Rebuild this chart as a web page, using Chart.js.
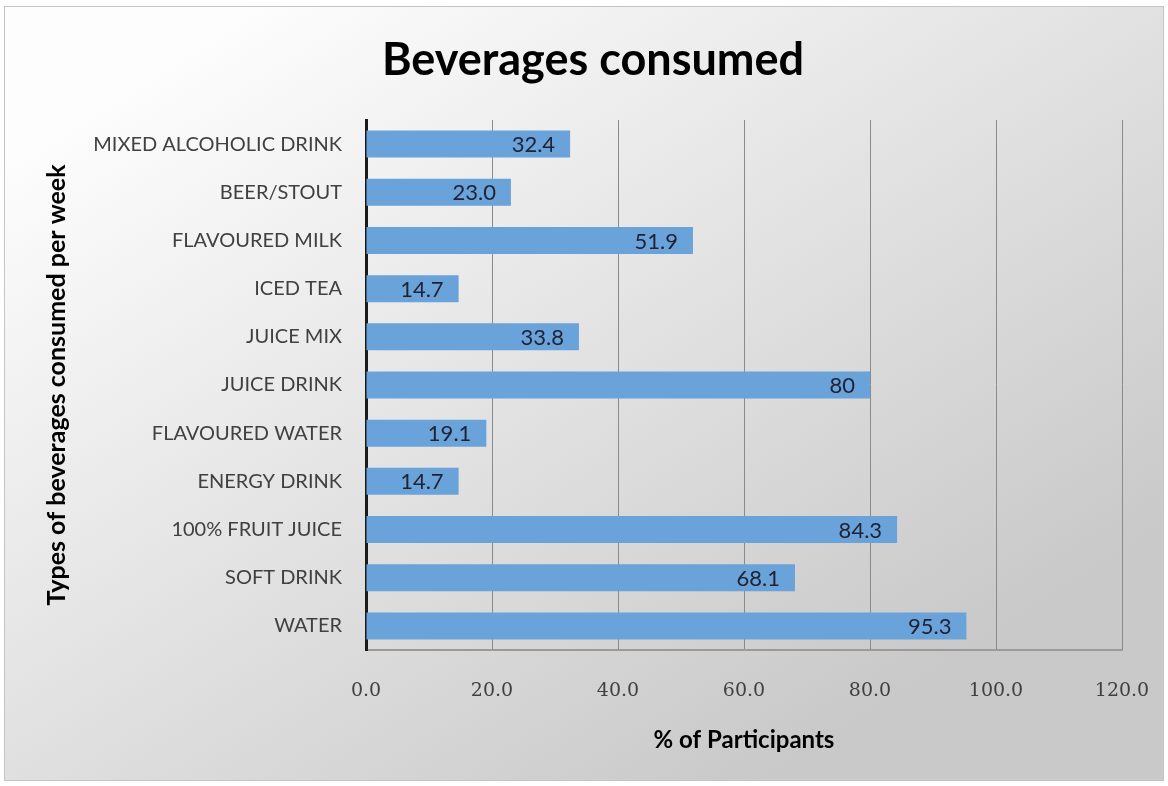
<!DOCTYPE html>
<html>
<head>
<meta charset="utf-8">
<script src="https://cdn.jsdelivr.net/npm/chart.js@4"></script>
<style>
  html, body { margin: 0; padding: 0; background: #fff; }
  #wrap { width: 1168px; height: 786px; }
</style>
</head>
<body>
<div id="wrap"><canvas id="bevChart" width="1168" height="786"></canvas></div>
<script>
const categories = ['MIXED ALCOHOLIC DRINK', 'BEER/STOUT', 'FLAVOURED MILK', 'ICED TEA', 'JUICE MIX',
    'JUICE DRINK', 'FLAVOURED WATER', 'ENERGY DRINK', '100% FRUIT JUICE', 'SOFT DRINK', 'WATER'];
const valueLabels = ['32.4', '23.0', '51.9', '14.7', '33.8', '80', '19.1', '14.7', '84.3', '68.1', '95.3'];
const percentages = valueLabels.map(Number);
const xTicks = [0, 20, 40, 60, 80, 100, 120];

const uiFont = 'Lato, "Open Sans", sans-serif';

// grey gradient panel behind the whole chart, plus the heading
const panelBackground = {
    id: 'panelBackground',
    beforeDraw(chart) {
        const c = chart.ctx;
        c.save();
        c.fillStyle = '#ffffff';
        c.fillRect(0, 0, chart.width, chart.height);
        const g = c.createLinearGradient(250, 0, 750, 786);
        g.addColorStop(0, '#fdfdfd');
        g.addColorStop(1, '#c9c9c9');
        c.fillStyle = g;
        c.fillRect(4, 6, 1160, 775);
        c.strokeStyle = '#c4c4c4';
        c.lineWidth = 1;
        c.strokeRect(4.5, 6.5, 1159, 774);

        c.font = 'bold 45px ' + uiFont;
        c.fillStyle = '#000';
        c.textAlign = 'center';
        c.textBaseline = 'middle';
        c.fillText('Beverages consumed', 593, 60);
        c.restore();
    }
};

// value text at the inner end of each bar
const barValues = {
    id: 'barValues',
    afterDatasetsDraw(chart) {
        const c = chart.ctx;
        const meta = chart.getDatasetMeta(0);
        c.save();
        c.font = '22px ' + uiFont;
        c.fillStyle = '#1e2233';
        c.textAlign = 'right';
        c.textBaseline = 'middle';
        meta.data.forEach((bar, i) => {
            c.fillText(valueLabels[i], bar.x - 15, bar.y + 1);
        });
        c.restore();
    }
};

new Chart(document.getElementById('bevChart'), {
    type: 'bar',
    data: {
        labels: categories,
        datasets: [{
            data: percentages,
            backgroundColor: '#6aa2da',
            barPercentage: 0.56,
            categoryPercentage: 1
        }]
    },
    plugins: [panelBackground, barValues],
    options: {
        indexAxis: 'y',
        responsive: false,
        animation: false,
        layout: { padding: { left: 40, right: 46, top: 120, bottom: 30 } },
        plugins: {
            legend: { display: false },
            tooltip: { enabled: false },
            title: { display: false }
        },
        scales: {
            x: {
                min: 0,
                max: 120,
                afterBuildTicks(scale) { scale.ticks = xTicks.map(v => ({ value: v })); },
                afterFit(scale) { scale.height = 106; },
                grid: { color: '#8a8a8a', lineWidth: 1, drawTicks: true, tickLength: 14, tickColor: 'rgba(0,0,0,0)' },
                border: { color: '#9a9a9a', width: 2 },
                ticks: {
                    padding: 16,
                    color: '#404040',
                    font: { family: '"DejaVu Serif", serif', size: 19 },
                    callback: v => v.toFixed(1)
                },
                title: {
                    display: true,
                    text: '% of Participants',
                    color: '#000',
                    font: { family: uiFont, size: 24, weight: 'bold' },
                    padding: { top: 0, bottom: 1 }
                }
            },
            y: {
                afterFit(scale) { scale.width = 326; },
                grid: { display: false, drawTicks: false },
                border: { color: '#1a1a1a', width: 3 },
                ticks: {
                    padding: 24,
                    color: '#404040',
                    font: { family: uiFont, size: 20 }
                },
                title: {
                    display: true,
                    text: 'Types of beverages consumed per week',
                    color: '#000',
                    font: { family: uiFont, size: 25, weight: 'bold' },
                    padding: { top: 2, bottom: 0 }
                }
            }
        }
    }
});
</script>
</body>
</html>
